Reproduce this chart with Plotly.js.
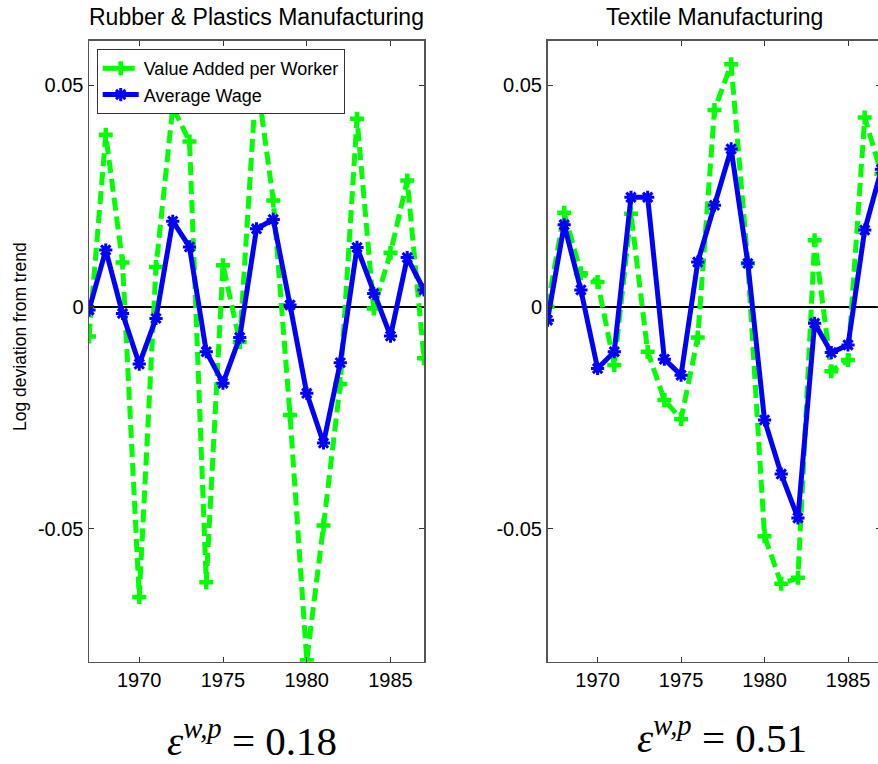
<!DOCTYPE html>
<html>
<head>
<meta charset="utf-8">
<script src="https://cdn.plot.ly/plotly-3.0.1.min.js"></script>
<style>
  html, body { margin: 0; padding: 0; background: #ffffff; overflow: hidden; }
  #chart { width: 900px; height: 764px; }
</style>
</head>
<body>
<div id="chart"></div>
<script>
// Years covered by both industry panels
const years = [1967, 1968, 1969, 1970, 1971, 1972, 1973, 1974, 1975, 1976, 1977,
               1978, 1979, 1980, 1981, 1982, 1983, 1984, 1985, 1986, 1987];

// Rubber & Plastics Manufacturing: log deviation from trend
const rubberValueAdded = [-0.0067, 0.0388, 0.0100, -0.0654, 0.0090, 0.0450, 0.0373, -0.0621, 0.0094, -0.0079, 0.0520,
                          0.0240, -0.0244, -0.0797, -0.0493, -0.0174, 0.0424, -0.0004, 0.0122, 0.0285, -0.0116];
const rubberWage = [-0.0007, 0.0128, -0.0015, -0.0129, -0.0026, 0.0193, 0.0135, -0.0101, -0.0172, -0.0069, 0.0176,
                    0.0197, 0.0004, -0.0195, -0.0307, -0.0126, 0.0134, 0.0030, -0.0066, 0.0111, 0.0038];

// Textile Manufacturing: log deviation from trend
const textileValueAdded = [0.0000, 0.0212, 0.0076, 0.0056, -0.0131, 0.0210, -0.0101, -0.0210, -0.0253, -0.0069, 0.0444,
                           0.0547, 0.0098, -0.0517, -0.0624, -0.0611, 0.0150, -0.0145, -0.0120, 0.0427, 0.0300];
const textileWage = [-0.0030, 0.0185, 0.0038, -0.0139, -0.0101, 0.0247, 0.0247, -0.0118, -0.0154, 0.0101, 0.0229,
                     0.0356, 0.0098, -0.0255, -0.0377, -0.0476, -0.0037, -0.0103, -0.0086, 0.0173, 0.0310];

// Panel titles, series names and elasticity labels
const panelTitles = ['Rubber & Plastics Manufacturing', 'Textile Manufacturing'];
const seriesNames = ['Value Added per Worker', 'Average Wage'];
const elasticities = ['0.18', '0.51'];
const yLabel = 'Log deviation from trend';

// Tick labels
const xTickVals = [1970, 1975, 1980, 1985];
const yTickVals = [-0.05, 0, 0.05];
const yTickText = ['-0.05', '0', '0.05'];

const GREEN = '#00ff00';
const BLUE = '#0000ff';
const W = 900, H = 764;
const SANS = 'Liberation Sans, Arial, sans-serif';

function vaTrace(y, xa, ya, showLegend) {
  return {
    x: years, y: y, xaxis: xa, yaxis: ya,
    type: 'scatter', mode: 'lines+markers',
    name: seriesNames[0], showlegend: showLegend,
    line: { color: GREEN, width: 5, dash: '13px,6px' },
    marker: { symbol: 'cross-thin', size: 10, color: GREEN, line: { color: GREEN, width: 4.5 } }
  };
}
function wageTrace(y, xa, ya, showLegend) {
  return {
    x: years, y: y, xaxis: xa, yaxis: ya,
    type: 'scatter', mode: 'lines+markers',
    name: seriesNames[1], showlegend: showLegend,
    line: { color: BLUE, width: 5 },
    marker: { symbol: 'asterisk', size: 11, color: BLUE, line: { color: BLUE, width: 3 } }
  };
}

const data = [
  vaTrace(rubberValueAdded, 'x', 'y', true),
  wageTrace(rubberWage, 'x', 'y', true),
  vaTrace(textileValueAdded, 'x2', 'y2', false),
  wageTrace(textileWage, 'x2', 'y2', false)
];

const tickFont = { family: SANS, size: 20, color: '#000000' };

function xAxis(domain, anchor) {
  return {
    domain: domain, anchor: anchor, range: [1967, 1987],
    tickmode: 'array', tickvals: xTickVals,
    ticks: 'inside', ticklen: 5, tickwidth: 1, tickcolor: '#333333',
    showline: true, linecolor: '#555555', linewidth: 1.5, mirror: 'ticks',
    showgrid: false, zeroline: false, tickfont: tickFont
  };
}
function yAxis(domain, anchor) {
  return {
    domain: domain, anchor: anchor, range: [-0.08, 0.06],
    tickmode: 'array', tickvals: yTickVals, ticktext: yTickText,
    ticks: 'inside', ticklen: 5, tickwidth: 1, tickcolor: '#333333',
    showline: true, linecolor: '#555555', linewidth: 1.5, mirror: 'ticks',
    showgrid: false, zeroline: true, zerolinecolor: '#000000', zerolinewidth: 2.5,
    tickfont: tickFont
  };
}

const yDom = [1 - 661.7 / H, 1 - 40.7 / H];
const leftDom = [89 / W, 424 / W];
const rightDom = [547.5 / W, 881.4 / W];

const titleFont = { family: SANS, size: 23, color: '#000000' };
const epsFont = { family: 'Liberation Serif, Times New Roman, serif', size: 41, color: '#000000' };

const layout = {
  width: W, height: H,
  margin: { l: 0, r: 0, t: 0, b: 0 },
  paper_bgcolor: '#ffffff', plot_bgcolor: '#ffffff',
  showlegend: true,
  xaxis: xAxis(leftDom, 'y'),
  yaxis: yAxis(yDom, 'x'),
  xaxis2: xAxis(rightDom, 'y2'),
  yaxis2: yAxis(yDom, 'x2'),
  legend: {
    x: 96.7 / W, y: 1 - 49 / H, xanchor: 'left', yanchor: 'top',
    bgcolor: '#ffffff', bordercolor: '#333333', borderwidth: 1,
    font: { family: SANS, size: 18, color: '#000000' },
    tracegroupgap: 0, itemwidth: 36
  },
  annotations: [
    { text: panelTitles[0], xref: 'paper', yref: 'paper', x: 256.5 / W, y: 1 - 17 / H,
      xanchor: 'center', yanchor: 'middle', showarrow: false, font: titleFont },
    { text: panelTitles[1], xref: 'paper', yref: 'paper', x: 714.5 / W, y: 1 - 17 / H,
      xanchor: 'center', yanchor: 'middle', showarrow: false, font: titleFont },
    { text: yLabel, xref: 'paper', yref: 'paper', x: 20 / W, y: 1 - 337 / H, textangle: -90,
      xanchor: 'center', yanchor: 'middle', showarrow: false,
      font: { family: SANS, size: 17.5, color: '#000000' } },
    { text: '<i>ε</i><sup><i>w,p</i></sup> = ' + elasticities[0], xref: 'paper', yref: 'paper',
      x: 252 / W, y: 1 - 738 / H, xanchor: 'center', yanchor: 'middle', showarrow: false, font: epsFont },
    { text: '<i>ε</i><sup><i>w,p</i></sup> = ' + elasticities[1], xref: 'paper', yref: 'paper',
      x: 722 / W, y: 1 - 735 / H, xanchor: 'center', yanchor: 'middle', showarrow: false, font: epsFont }
  ]
};

Plotly.newPlot('chart', data, layout, { displayModeBar: false, staticPlot: true });
</script>
</body>
</html>
